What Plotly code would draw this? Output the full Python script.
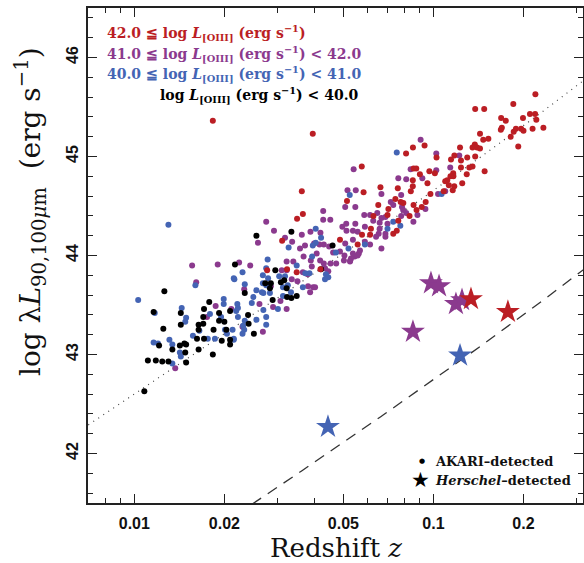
import numpy as np
import plotly.graph_objects as go

# ---------------- data ----------------
# log L[OIII] < 40.0  (black)
black_z = [0.0126, 0.0217, 0.0178, 0.0171, 0.0143, 0.0116, 0.0170, 0.0192, 0.0209, 0.0200,
           0.0143, 0.0164, 0.0170, 0.0192, 0.0125, 0.0164, 0.0184, 0.0203, 0.0162, 0.0171,
           0.0196, 0.0209, 0.0209, 0.0121, 0.0142, 0.0147, 0.0149, 0.0134, 0.0164, 0.0148,
           0.0183, 0.0111, 0.0118, 0.0124, 0.0130, 0.0149, 0.0108, 0.0256, 0.0335, 0.0460,
           0.0421, 0.0349, 0.0335, 0.0296, 0.0317, 0.0309, 0.0286, 0.0323, 0.0324, 0.0290,
           0.0284, 0.0274, 0.0251, 0.0240, 0.0234, 0.0241]
black_logL = [43.64, 43.91, 43.53, 43.46, 43.42, 43.43, 43.38, 43.42, 43.44, 43.33,
              43.30, 43.30, 43.31, 43.34, 43.26, 43.25, 43.25, 43.25, 43.16, 43.16,
              43.14, 43.15, 43.10, 43.09, 43.09, 43.11, 43.10, 43.05, 43.05, 43.02,
              43.00, 42.94, 42.94, 42.93, 42.93, 42.92, 42.63, 44.20, 44.24, 44.10,
              43.86, 43.59, 43.57, 43.85, 43.75, 43.73, 43.72, 43.67, 43.58, 43.55,
              43.67, 43.72, 43.21, 43.40, 43.62, 43.31]

# 40.0 <= log L[OIII] < 41.0  (blue)
blue_z = [0.0103, 0.0160, 0.0216, 0.0144, 0.0117, 0.0149, 0.0148, 0.0199, 0.0199, 0.0221,
          0.0219, 0.0195, 0.0179, 0.0222, 0.0165, 0.0157, 0.0176, 0.0186, 0.0201, 0.0204,
          0.0213, 0.0215, 0.0131, 0.0116, 0.0120, 0.0134, 0.0142, 0.0143, 0.0134, 0.0404,
          0.0421, 0.0328, 0.0404, 0.0385, 0.0437, 0.0445, 0.0349, 0.0366, 0.0393, 0.0279,
          0.0269, 0.0276, 0.0280, 0.0305, 0.0319, 0.0314, 0.0326, 0.0334, 0.0314, 0.0302,
          0.0284, 0.0270, 0.0267, 0.0276, 0.0269, 0.0256, 0.0250, 0.0247, 0.0270, 0.0276,
          0.0276, 0.0256, 0.0234, 0.0230, 0.0215, 0.0222, 0.0234, 0.0231, 0.0233, 0.0230,
          0.0215, 0.0525, 0.0520, 0.0590, 0.0395, 0.0472, 0.0434, 0.0373, 0.0754, 0.1065,
          0.0734, 0.0775, 0.0702, 0.0130]
blue_logL = [43.55, 43.70, 43.76, 43.47, 43.42, 43.37, 43.33, 43.56, 43.51, 43.51,
             43.44, 43.38, 43.41, 43.38, 43.24, 43.19, 43.16, 43.16, 43.25, 43.21,
             43.25, 43.15, 43.15, 43.12, 43.11, 43.10, 43.02, 42.98, 42.91, 44.27,
             44.18, 44.08, 44.13, 43.82, 43.81, 43.78, 43.90, 43.68, 43.99, 43.96,
             43.80, 43.87, 43.77, 43.79, 43.79, 43.68, 43.70, 43.63, 43.59, 43.46,
             43.62, 43.62, 43.63, 43.70, 43.72, 43.65, 43.58, 43.52, 43.45, 43.38,
             43.30, 43.35, 43.71, 43.83, 43.77, 43.47, 43.34, 43.29, 43.25, 43.21,
             43.16, 44.61, 44.07, 44.11, 44.10, 44.03, 43.76, 43.82, 45.04, 44.62,
             44.34, 44.30, 44.27, 44.31]

# 41.0 <= log L[OIII] < 42.0  (purple)
purple_z = [0.0156, 0.0190, 0.0161, 0.0187, 0.0211, 0.0175, 0.0137, 0.0224, 0.0276, 0.0293,
            0.0259, 0.0428, 0.0428, 0.0452, 0.0319, 0.0363, 0.0388, 0.0419, 0.0337, 0.0358,
            0.0372, 0.0399, 0.0416, 0.0430, 0.0448, 0.0496, 0.0511, 0.0512, 0.0507, 0.0516,
            0.0462, 0.0487, 0.0507, 0.0407, 0.0368, 0.0389, 0.0418, 0.0430, 0.0453, 0.0473,
            0.0392, 0.0323, 0.0340, 0.0366, 0.0380, 0.0336, 0.0351, 0.0381, 0.0396, 0.0402,
            0.0387, 0.0323, 0.0311, 0.0308, 0.0323, 0.0286, 0.0262, 0.0291, 0.0269, 0.0233,
            0.0244, 0.0230, 0.0906, 0.1022, 0.1220, 0.0541, 0.0839, 0.1022, 0.1138, 0.0763,
            0.0811, 0.0918, 0.0550, 0.0780, 0.0670, 0.1036, 0.0548, 0.0720, 0.0734, 0.0785,
            0.0940, 0.0649, 0.0811, 0.0857, 0.0884, 0.0780, 0.0792, 0.0587, 0.0614, 0.0629,
            0.0670, 0.0691, 0.0661, 0.0702, 0.0691, 0.0661, 0.0590, 0.0656, 0.0691, 0.0643,
            0.0558, 0.0538, 0.0590, 0.0614, 0.0670, 0.0538, 0.0563, 0.0545, 0.0527, 0.0568,
            0.0558, 0.0530, 0.0526, 0.0502, 0.0504, 0.0538, 0.0434, 0.0445, 0.0548, 0.1095]
purple_logL = [43.90, 43.91, 43.73, 43.49, 43.46, 43.38, 42.86, 43.93, 44.34, 44.25,
               44.13, 44.45, 44.36, 44.36, 44.18, 44.21, 44.24, 44.23, 44.14, 44.07,
               44.10, 44.12, 44.11, 44.11, 44.09, 44.29, 44.32, 44.25, 44.49, 44.66,
               44.03, 44.04, 44.12, 44.02, 43.99, 43.95, 43.95, 43.92, 43.92, 43.92,
               43.89, 43.94, 43.94, 43.83, 43.81, 43.76, 43.74, 43.69, 43.68, 43.68,
               43.63, 43.85, 43.85, 43.54, 43.46, 43.69, 43.51, 43.48, 43.23, 43.66,
               43.90, 43.28, 45.17, 45.03, 45.01, 44.87, 44.87, 44.86, 44.89, 44.78,
               44.77, 44.78, 44.66, 44.61, 44.62, 44.62, 44.49, 44.54, 44.51, 44.49,
               44.47, 44.43, 44.43, 44.34, 44.41, 44.40, 44.46, 44.41, 44.41, 44.35,
               44.38, 44.39, 44.33, 44.32, 44.22, 44.27, 44.29, 44.22, 44.19, 44.19,
               44.24, 44.25, 44.14, 44.11, 44.07, 44.16, 44.02, 43.99, 43.95, 44.05,
               44.00, 43.97, 43.94, 43.95, 44.00, 44.02, 43.87, 43.84, 44.32, 44.65]

# 42.0 <= log L[OIII]  (red)
red_z = [0.0183, 0.0395, 0.0363, 0.0366, 0.0350, 0.0312, 0.0487, 0.0514, 0.0419, 0.0349,
         0.0324, 0.0278, 0.0558, 0.0934, 0.0854, 0.0810, 0.1227, 0.1024, 0.1175, 0.1145,
         0.1236, 0.0576, 0.0858, 0.0876, 0.0901, 0.0969, 0.1011, 0.1164, 0.1236, 0.1166,
         0.1140, 0.1112, 0.1095, 0.1126, 0.1174, 0.1248, 0.1082, 0.1160, 0.0853, 0.0955,
         0.0584, 0.0665, 0.0760, 0.0853, 0.0840, 0.0977, 0.0654, 0.0746, 0.0777, 0.0793,
         0.0942, 0.0858, 0.0878, 0.0914, 0.0707, 0.0630, 0.0702, 0.0832, 0.0763, 0.0754,
         0.0734, 0.0618, 0.0614, 0.0577, 0.2192, 0.1849, 0.1379, 0.1478, 0.1684, 0.1745,
         0.2102, 0.2187, 0.2208, 0.1992, 0.1693, 0.1680, 0.1855, 0.1887, 0.1964, 0.2000,
         0.2145, 0.2331, 0.1431, 0.1812, 0.1467, 0.1526, 0.1375, 0.1351, 0.1399, 0.1431,
         0.1921, 0.1379, 0.1297, 0.1483, 0.1351, 0.1318, 0.1292]
red_logL = [45.36, 45.23, 44.65, 44.42, 44.37, 44.15, 44.16, 44.55, 43.86, 43.83,
            43.86, 43.85, 44.11, 45.11, 45.09, 45.03, 45.09, 44.99, 45.01, 44.97,
            44.96, 44.90, 44.88, 44.88, 44.82, 44.85, 44.83, 44.83, 44.89, 44.80,
            44.80, 44.76, 44.75, 44.71, 44.70, 44.73, 44.65, 44.66, 44.76, 44.73,
            44.64, 44.69, 44.68, 44.70, 44.65, 44.62, 44.51, 44.57, 44.54, 44.53,
            44.54, 44.51, 44.46, 44.49, 44.47, 44.40, 44.41, 44.40, 44.35, 44.25,
            44.22, 44.27, 44.21, 44.21, 45.63, 45.53, 45.48, 45.48, 45.39, 45.36,
            45.43, 45.43, 45.37, 45.39, 45.29, 45.27, 45.25, 45.28, 45.28, 45.26,
            45.28, 45.29, 45.23, 45.20, 45.17, 45.18, 45.12, 45.09, 45.09, 45.08,
            45.10, 45.00, 44.99, 44.85, 44.90, 44.89, 44.82]

# Herschel-detected sources (stars)
star_z = [0.0981, 0.1044, 0.1189, 0.1246, 0.1335, 0.1774, 0.0854, 0.1227, 0.0444]
star_logL = [43.72, 43.69, 43.51, 43.55, 43.56, 43.43, 43.23, 42.99, 42.27]
star_class = ["purple", "purple", "purple", "purple", "red", "red", "purple", "blue", "blue"]

# flux limits (log nu*F_nu, erg s^-1 cm^-2)
akari_log_flux_limit = -10.75
herschel_log_flux_limit = -12.66

x_tick_vals = [0.01, 0.02, 0.05, 0.1, 0.2]
x_tick_text = ["0.01", "0.02", "0.05", "0.1", "0.2"]
x_minor_vals = [0.007, 0.008, 0.009, 0.03, 0.04, 0.06, 0.07, 0.08, 0.09, 0.3]
y_tick_vals = [42, 43, 44, 45, 46]

COLORS = {"red": "#BB1E24", "purple": "#8B3A8E", "blue": "#4464B4", "black": "#000000"}


def lum_dist_cm(z):
    zz = np.linspace(0.0, float(np.max(z)) * 1.01, 5001)
    inv_e = 1.0 / np.sqrt(0.3 * (1 + zz) ** 3 + 0.7)
    dc = np.concatenate([[0.0], np.cumsum(0.5 * (inv_e[1:] + inv_e[:-1]) * np.diff(zz))])
    dc_cm = np.interp(z, zz, dc) * 299792.458 / 70.0 * 3.0857e24
    return (1 + z) * dc_cm


zgrid = np.logspace(np.log10(0.0065), np.log10(0.34), 400)
log4pid2 = np.log10(4 * np.pi * lum_dist_cm(zgrid) ** 2)

fig = go.Figure()
fig.add_trace(go.Scatter(x=zgrid, y=akari_log_flux_limit + log4pid2, mode="lines",
                         line=dict(color="#444444", width=1.2, dash="1px,5px"), hoverinfo="skip"))
fig.add_trace(go.Scatter(x=zgrid, y=herschel_log_flux_limit + log4pid2, mode="lines",
                         line=dict(color="#333333", width=1.3, dash="11px,8px"), hoverinfo="skip"))

for zs, ls, c in [(purple_z, purple_logL, "purple"), (blue_z, blue_logL, "blue"),
                  (black_z, black_logL, "black"), (red_z, red_logL, "red")]:
    fig.add_trace(go.Scatter(x=zs, y=ls, mode="markers",
                             marker=dict(color=COLORS[c], size=6, line=dict(width=0))))

fig.add_trace(go.Scatter(x=star_z, y=star_logL, mode="markers",
                         marker=dict(symbol="star", size=18, color=[COLORS[c] for c in star_class],
                                     line=dict(width=0))))

axis_common = dict(showline=True, linecolor="#222222", linewidth=1.5, mirror="ticks",
                   ticks="inside", ticklen=9, tickwidth=1.2, tickcolor="#222222",
                   showgrid=False, zeroline=False, automargin=False,
                   tickfont=dict(family="Liberation Sans", size=16, color="#111111", weight="bold"))

fig.update_xaxes(type="log", range=[np.log10(0.007), -0.5], tickvals=x_tick_vals,
                 ticktext=x_tick_text,
                 minor=dict(tickvals=x_minor_vals, ticks="inside", ticklen=5, tickwidth=1.2,
                            tickcolor="#222222", showgrid=False),
                 ticklabelstandoff=5, **axis_common)
fig.update_yaxes(range=[41.5, 46.5], tickvals=y_tick_vals, tickangle=-90,
                 minor=dict(dtick=0.2, ticks="inside", ticklen=5, tickwidth=1.2,
                            tickcolor="#222222", showgrid=False),
                 ticklabelstandoff=2, **axis_common)

serif = "DejaVu Serif"
ann = []
ann.append(dict(text="Redshift <i>z</i>", x=0.5, y=-0.09, xref="paper", yref="paper",
                xanchor="center", yanchor="middle", showarrow=False,
                font=dict(family=serif, size=26, color="#111111")))
ann.append(dict(text="log λ<i>L</i><sub>90,100<i>μ</i>m</sub>  (erg s<sup>−1</sup>)",
                x=-0.115, y=0.588, xref="paper", yref="paper", textangle=-90,
                xanchor="center", yanchor="middle", showarrow=False,
                font=dict(family=serif, size=28, color="#111111")))

leg_lines = [
    ("42.0 ≦ log <i>L</i><sub>[OIII]</sub> (erg s<sup>−1</sup>)", COLORS["red"], 33, "left", 105),
    ("41.0 ≦ log <i>L</i><sub>[OIII]</sub> (erg s<sup>−1</sup>) &lt; 42.0", COLORS["purple"], 53.5, "left", 105),
    ("40.0 ≦ log <i>L</i><sub>[OIII]</sub> (erg s<sup>−1</sup>) &lt; 41.0", COLORS["blue"], 74, "left", 105),
    ("log <i>L</i><sub>[OIII]</sub> (erg s<sup>−1</sup>) &lt; 40.0", COLORS["black"], 94.5, "right", 361),
]
for txt, col, ypx, anchor, xpx in leg_lines:
    ann.append(dict(text=txt, x=(xpx - 88) / 495, y=(503 - ypx) / 495, xref="paper", yref="paper",
                    xanchor=anchor, yanchor="middle", showarrow=False,
                    font=dict(family=serif, size=14, color=col, weight="bold")))

ann.append(dict(text="AKARI–detected", x=(433 - 88) / 495, y=(503 - 461) / 495,
                xref="paper", yref="paper", xanchor="left", yanchor="middle", showarrow=False,
                font=dict(family=serif, size=13, color="#111111", weight="bold")))
ann.append(dict(text="<i>Herschel</i>–detected", x=(433 - 88) / 495, y=(503 - 480) / 495,
                xref="paper", yref="paper", xanchor="left", yanchor="middle", showarrow=False,
                font=dict(family=serif, size=13, color="#111111", weight="bold")))
ann.append(dict(text="●", x=(421.5 - 88) / 495, y=(503 - 461) / 495,
                xref="paper", yref="paper", xanchor="center", yanchor="middle", showarrow=False,
                font=dict(family="DejaVu Sans", size=7, color="#000000")))
ann.append(dict(text="★", x=(420 - 88) / 495, y=(503 - 480) / 495,
                xref="paper", yref="paper", xanchor="center", yanchor="middle", showarrow=False,
                font=dict(family="DejaVu Sans", size=21, color="#000000")))

fig.update_layout(width=584, height=563, margin=dict(l=88, r=1, t=8, b=60),
                  plot_bgcolor="white", paper_bgcolor="white", showlegend=False,
                  annotations=ann)

fig.write_html("out.html")
